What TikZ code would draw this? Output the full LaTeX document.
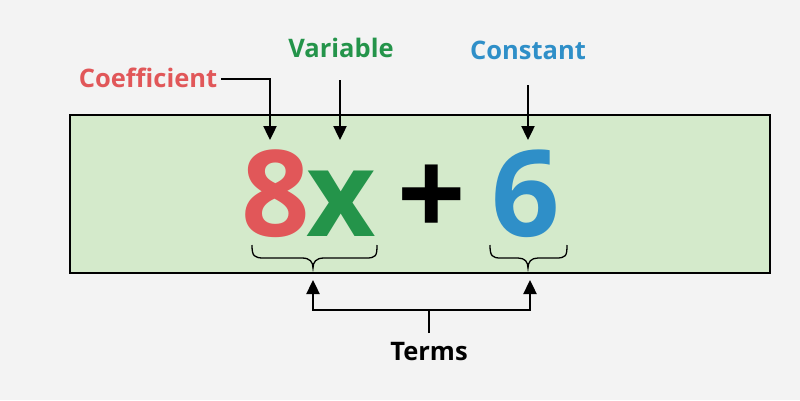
\documentclass[tikz,border=0pt]{standalone}
\usepackage{fontspec}
\setmainfont{Open Sans}
\usetikzlibrary{arrows.meta}
\definecolor{bg}{HTML}{F3F3F3}
\definecolor{boxg}{HTML}{D4EACB}
\definecolor{cred}{HTML}{E15759}
\definecolor{cgreen}{HTML}{24944A}
\definecolor{cblue}{HTML}{2F8FC8}
\begin{document}
\begin{tikzpicture}[x=1pt,y=-1pt,
  big/.style={font=\fontsize{120}{120}\selectfont\bfseries, inner sep=0pt, anchor=base},
  lab/.style={font=\fontsize{25.5}{25.5}\selectfont\bfseries, inner sep=0pt, anchor=base},
  arr/.style={line width=2.4pt, -{Triangle[length=14pt,width=13pt]}},
  brace/.style={line width=1.3pt}]
\useasboundingbox (0,0) rectangle (800,400);
\fill[bg] (0,0) rectangle (800,400);
\draw[fill=boxg, line width=1.6pt] (70,115) rectangle (770,273);
\node[big, text=cred] (eight) at (276,236) {8};
\node[big, text=cgreen] (x) at (341,236) {x};
\node[big] (plus) at (432,236) {+};
\node[big, text=cblue] (six) at (526,236) {6};
\node[lab, text=cred] (coef) at (148,87) {Coefficient};
\node[lab, text=cgreen] (var) at (341,57) {Variable};
\node[lab, text=cblue] (const) at (528,59) {Constant};
\node[lab] (terms) at (429,360) {Terms};
\coordinate (c1) at (270,140);
\coordinate (v1) at (340,140);
\coordinate (k1) at (528,140);
\draw[arr] ([xshift=4pt]coef.east |- 0,79) -- (270,79) -- (c1);
\draw[arr] (340,80) -- (v1);
\draw[arr] (528,85) -- (k1);
% braces
\draw[brace] (252,245) .. controls (252,256) and (254,258) .. (264,258) -- (302,258) .. controls (310,258) and (313,262) .. (313,268)
  .. controls (313,262) and (316,258) .. (324,258) -- (366,258) .. controls (376,258) and (377,256) .. (377,245);
\draw[brace] (490,245) .. controls (490,256) and (492,258) .. (501,258) -- (518,258) .. controls (525,258) and (528,262) .. (528,268)
  .. controls (528,262) and (531,258) .. (538,258) -- (556,258) .. controls (566,258) and (567,256) .. (567,245);
\coordinate (t1) at (313,280);
\coordinate (t2) at (530,280);
\draw[line width=2.4pt] (429,333) -- (429,310);
\draw[arr] (429,310) -- (313,310) -- (t1);
\draw[arr] (429,310) -- (530,310) -- (t2);
\end{tikzpicture}
\end{document}
